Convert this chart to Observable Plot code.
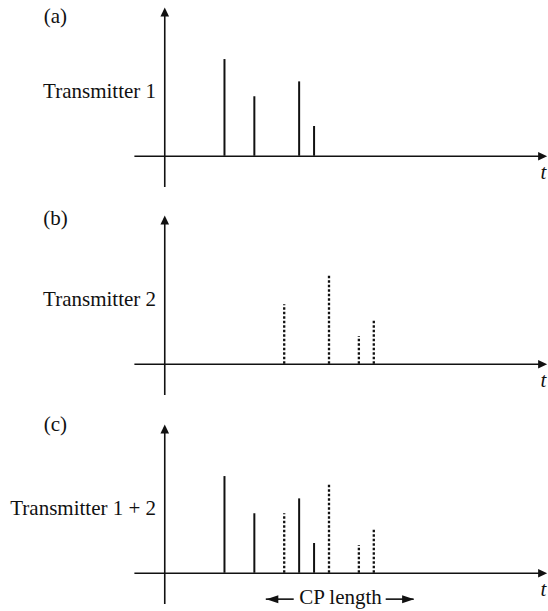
<!DOCTYPE html>
<html><head><meta charset="utf-8">
<script src="https://cdn.jsdelivr.net/npm/d3@7"></script>
<script src="https://cdn.jsdelivr.net/npm/@observablehq/plot@0.6"></script>
<style>
body{margin:0;background:#fff}
#chart svg{display:block}
</style>
</head><body><div id="chart"></div>
<script>
// ---- data ----
const panelTags = ["(a)", "(b)", "(c)"];
const panelNames = ["Transmitter 1", "Transmitter 2", "Transmitter 1 + 2"];
const tx1Times = [4, 6, 9, 10];
const tx1Amps = [3.25, 2.0, 2.5, 1.0];
const tx2Times = [8, 11, 13, 14];
const tx2Amps = [2.0, 3.0, 0.93, 1.5];
const axisLabel = "t";
const cpLabel = "CP length";
const cpStart = 6.8, cpEnd = 16.7;

// ---- layout/style constants ----
const INK = "#111";
const FONT = "Liberation Serif, Times New Roman, serif";
const tagY = [4.7, 4.9, 5.0];
const svgHeights = [208, 209, 194];

const headUp = {draw(c){c.moveTo(0,0);c.lineTo(4.3,9);c.lineTo(-4.3,9);c.closePath();}};
const headRight = {draw(c){c.moveTo(0,0);c.lineTo(-9,-4.3);c.lineTo(-9,4.3);c.closePath();}};
const cpRight = {draw(c){c.moveTo(0,0);c.lineTo(-12,-4);c.lineTo(-12,4);c.closePath();}};
const cpLeft = {draw(c){c.moveTo(0,0);c.lineTo(12,-4);c.lineTo(12,4);c.closePath();}};

const tx1 = tx1Times.map((t, i) => ({t, a: tx1Amps[i]}));
const tx2 = tx2Times.map((t, i) => ({t, a: tx2Amps[i]}));

function panel(i, showTx1, showTx2, showCP) {
  const h = svgHeights[i];
  const marks = [
    // axes
    Plot.ruleY([0], {x1: -2, x2: 25.4, stroke: INK, strokeWidth: 1.6}),
    Plot.ruleX([0], {y1: -1.05, y2: 4.9, stroke: INK, strokeWidth: 1.6}),
    Plot.dot([0], {x: 0, y: 5, symbol: headUp, fill: INK, stroke: "none"}),
    Plot.dot([0], {x: 25.61, y: 0, symbol: headRight, fill: INK, stroke: "none"}),
    Plot.text([axisLabel], {x: 25.36, y: -0.55, text: d => d, fontSize: 21, fontStyle: "italic", fill: INK}),
    // labels
    Plot.text([panelTags[i]], {x: -7.32, y: tagY[i], text: d => d, fontSize: 21, fill: INK}),
    Plot.text([panelNames[i]], {x: -0.58, y: 2.18, text: d => d, fontSize: 21, textAnchor: "end", fill: INK})
  ];
  if (showTx1) marks.push(Plot.ruleX(tx1, {x: "t", y1: 0, y2: "a", stroke: INK, strokeWidth: 2}));
  if (showTx2) marks.push(Plot.ruleX(tx2, {x: "t", y1: 0, y2: "a", stroke: INK, strokeWidth: 2.3, strokeDasharray: "2.6,1.9"}));
  if (showCP) {
    const mid = (cpStart + cpEnd) / 2;
    marks.push(
      Plot.ruleY([{a: cpStart, b: 8.67}, {a: 14.83, b: cpEnd}], {y: -0.87, x1: "a", x2: "b", stroke: INK, strokeWidth: 1.6}),
      Plot.dot([0], {x: cpStart, y: -0.87, symbol: cpLeft, fill: INK, stroke: "none"}),
      Plot.dot([0], {x: cpEnd, y: -0.87, symbol: cpRight, fill: INK, stroke: "none"}),
      Plot.text([cpLabel], {x: mid + 0.02, y: -0.82, text: d => d, fontSize: 21, fill: INK})
    );
  }
  return Plot.plot({
    width: 548,
    height: h,
    marginLeft: 0,
    marginRight: 0,
    marginTop: 7,
    marginBottom: h - 187,
    x: {domain: [-11, 25.7], axis: null},
    y: {domain: [-1.05, 5], axis: null},
    style: {fontFamily: FONT, background: "#fff", color: INK, overflow: "visible"},
    marks
  });
}

const root = document.getElementById("chart");
root.appendChild(panel(0, true, false, false));
root.appendChild(panel(1, false, true, false));
root.appendChild(panel(2, true, true, true));
</script>
</body></html>
